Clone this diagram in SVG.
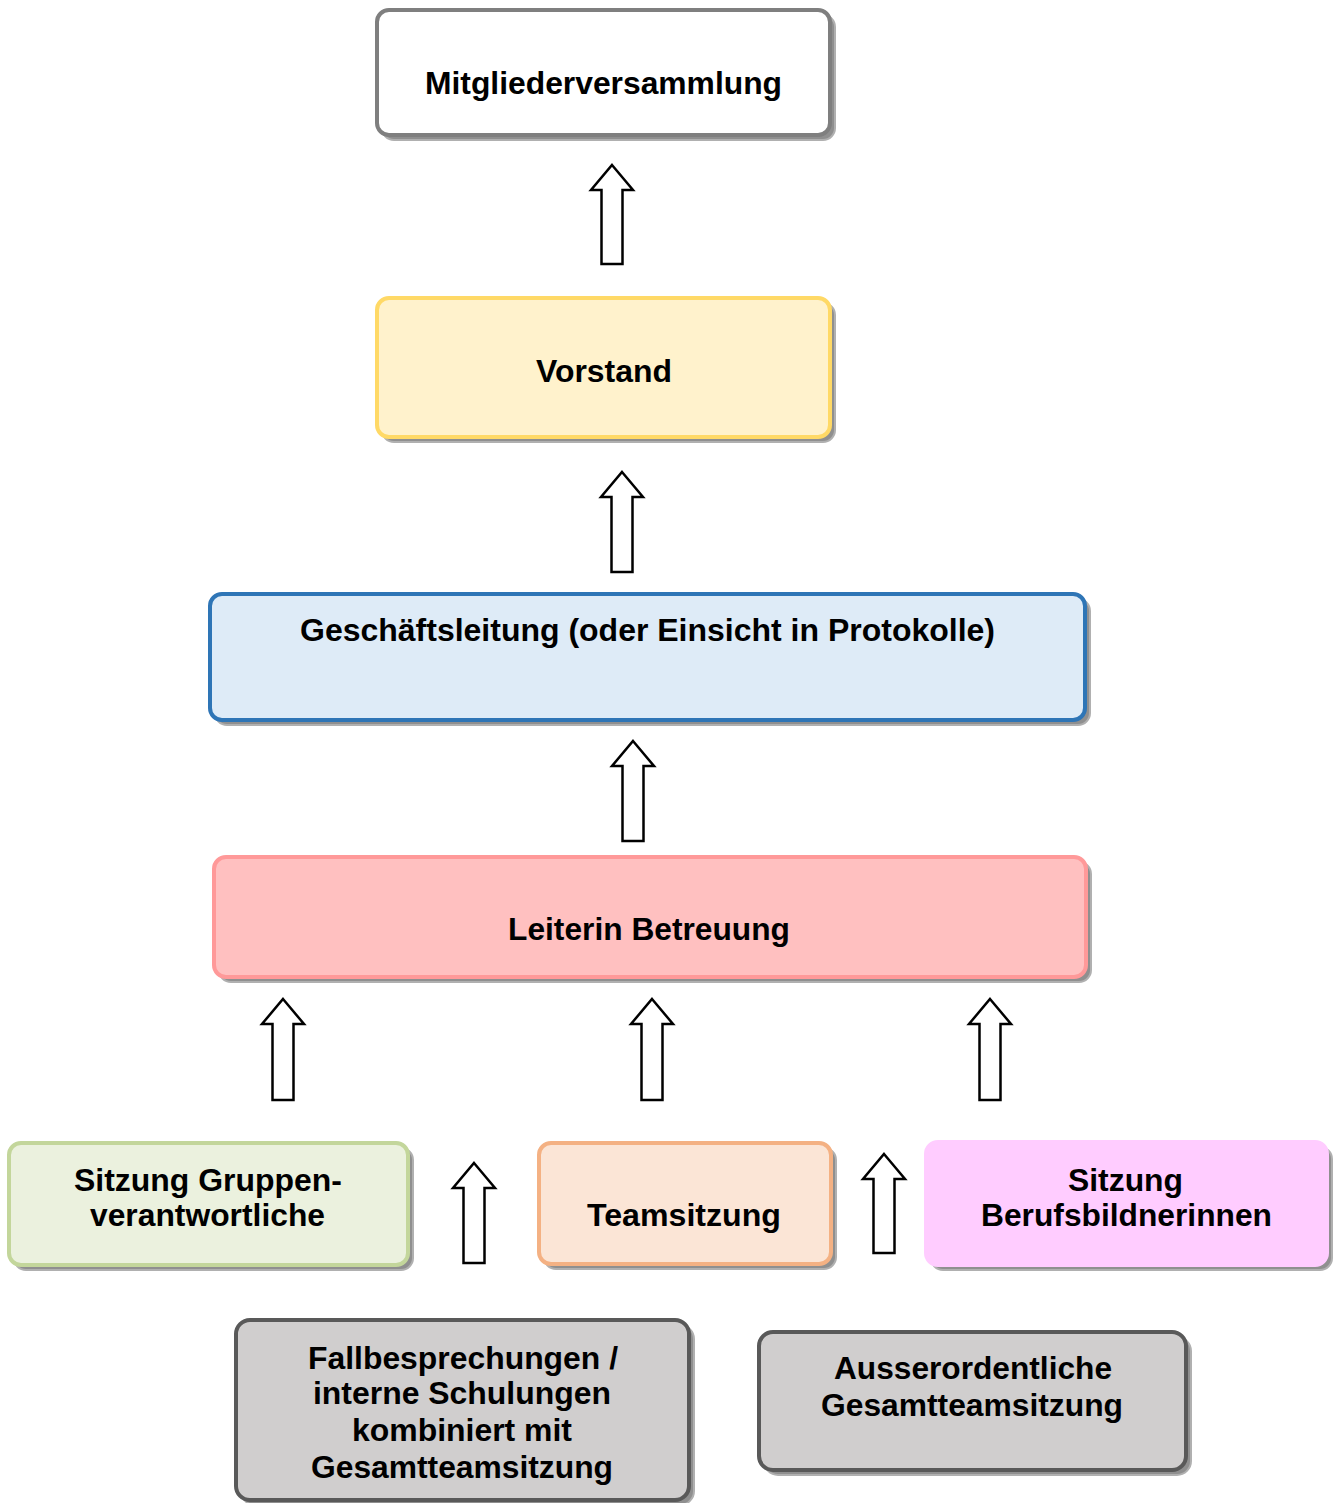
<svg xmlns="http://www.w3.org/2000/svg" width="1338" height="1503" viewBox="0 0 1338 1503">
<style>
.shadow{fill:#8f8f8f;stroke:#b0b0b0;stroke-width:2}
.box{stroke-width:4}
.t{font-family:"Liberation Sans",Arial,sans-serif;font-weight:bold;font-size:31px;fill:#000;text-anchor:middle}
.arrow{fill:#fff;stroke:#000;stroke-width:2.5;stroke-linejoin:miter}
</style>
<rect x="0" y="0" width="1338" height="1503" fill="#fff"/>
<g id="n-mitglieder">
<rect class="shadow" x="382" y="15" width="453" height="125" rx="12"/>
<rect class="box" x="377" y="10" width="453" height="125" rx="12" fill="#fff" stroke="#7f7f7f"/>
<text class="t" x="603.5" y="94" textLength="357" lengthAdjust="spacingAndGlyphs">Mitgliederversammlung</text>
</g>
<g id="n-vorstand">
<rect class="shadow" x="382" y="303" width="453" height="139" rx="12"/>
<rect class="box" x="377" y="298" width="453" height="139" rx="12" fill="#fff2cc" stroke="#ffd966"/>
<text class="t" x="604" y="382" textLength="136" lengthAdjust="spacingAndGlyphs">Vorstand</text>
</g>
<g id="n-geschaeft">
<rect class="shadow" x="215" y="599" width="875" height="126" rx="12"/>
<rect class="box" x="210" y="594" width="875" height="126" rx="12" fill="#deebf7" stroke="#2e75b6"/>
<text class="t" x="647.5" y="641" textLength="695" lengthAdjust="spacingAndGlyphs">Geschäftsleitung (oder Einsicht in Protokolle)</text>
</g>
<g id="n-leiterin">
<rect class="shadow" x="219" y="862" width="872" height="120" rx="12"/>
<rect class="box" x="214" y="857" width="872" height="120" rx="12" fill="#ffc0c0" stroke="#ff9999"/>
<text class="t" x="649" y="940" textLength="282" lengthAdjust="spacingAndGlyphs">Leiterin Betreuung</text>
</g>
<g id="n-gruppen">
<rect class="shadow" x="14" y="1148" width="399" height="122" rx="12"/>
<rect class="box" x="9" y="1143" width="399" height="122" rx="12" fill="#ebf1de" stroke="#c3d69b"/>
<text class="t" x="208" y="1191" textLength="268" lengthAdjust="spacingAndGlyphs">Sitzung Gruppen-</text>
<text class="t" x="207.5" y="1226" textLength="235" lengthAdjust="spacingAndGlyphs">verantwortliche</text>
</g>
<g id="n-team">
<rect class="shadow" x="544" y="1148" width="292" height="121" rx="12"/>
<rect class="box" x="539" y="1143" width="292" height="121" rx="12" fill="#fbe5d6" stroke="#f4b183"/>
<text class="t" x="684" y="1226" textLength="194" lengthAdjust="spacingAndGlyphs">Teamsitzung</text>
</g>
<g id="n-berufs">
<rect class="shadow" x="931" y="1147" width="401" height="123" rx="12"/>
<rect class="box" x="926" y="1142" width="401" height="123" rx="12" fill="#ffccff" stroke="#ffccff"/>
<text class="t" x="1125.5" y="1191" textLength="115" lengthAdjust="spacingAndGlyphs">Sitzung</text>
<text class="t" x="1126.5" y="1226" textLength="291" lengthAdjust="spacingAndGlyphs">Berufsbildnerinnen</text>
</g>
<g id="n-fall">
<rect class="shadow" x="241" y="1325" width="453" height="180" rx="14"/>
<rect class="box" x="236" y="1320" width="453" height="180" rx="14" fill="#d0cece" stroke="#595959"/>
<text class="t" x="463" y="1369" textLength="310" lengthAdjust="spacingAndGlyphs">Fallbesprechungen /</text>
<text class="t" x="462" y="1404" textLength="298" lengthAdjust="spacingAndGlyphs">interne Schulungen</text>
<text class="t" x="462" y="1441" textLength="220" lengthAdjust="spacingAndGlyphs">kombiniert mit</text>
<text class="t" x="462" y="1478" textLength="302" lengthAdjust="spacingAndGlyphs">Gesamtteamsitzung</text>
</g>
<g id="n-ausser">
<rect class="shadow" x="764" y="1337" width="427" height="138" rx="14"/>
<rect class="box" x="759" y="1332" width="427" height="138" rx="14" fill="#d0cece" stroke="#595959"/>
<text class="t" x="973" y="1379" textLength="278" lengthAdjust="spacingAndGlyphs">Ausserordentliche</text>
<text class="t" x="972" y="1416" textLength="302" lengthAdjust="spacingAndGlyphs">Gesamtteamsitzung</text>
</g>
<g id="connectors">
<path class="arrow" d="M612,165 L633,190 L622.5,190 L622.5,264 L601.5,264 L601.5,190 L591,190 Z"/>
<path class="arrow" d="M622,472 L643,497 L632.5,497 L632.5,572 L611.5,572 L611.5,497 L601,497 Z"/>
<path class="arrow" d="M633,741 L654,766 L643.5,766 L643.5,841 L622.5,841 L622.5,766 L612,766 Z"/>
<path class="arrow" d="M283,999 L304,1024 L293.5,1024 L293.5,1100 L272.5,1100 L272.5,1024 L262,1024 Z"/>
<path class="arrow" d="M652,999 L673,1024 L662.5,1024 L662.5,1100 L641.5,1100 L641.5,1024 L631,1024 Z"/>
<path class="arrow" d="M990,999 L1011,1024 L1000.5,1024 L1000.5,1100 L979.5,1100 L979.5,1024 L969,1024 Z"/>
<path class="arrow" d="M474,1163 L495,1188 L484.5,1188 L484.5,1263 L463.5,1263 L463.5,1188 L453,1188 Z"/>
<path class="arrow" d="M884,1154 L905,1179 L894.5,1179 L894.5,1253 L873.5,1253 L873.5,1179 L863,1179 Z"/>
</g>
</svg>
